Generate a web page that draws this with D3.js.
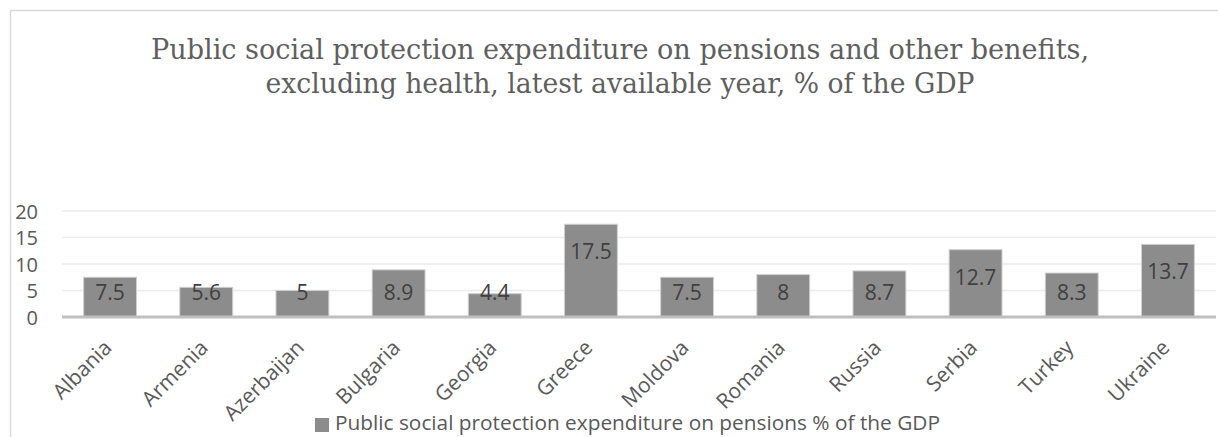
<!DOCTYPE html>
<html><head><meta charset="utf-8">
<script src="https://cdn.jsdelivr.net/npm/d3@7"></script>
<style>html,body{margin:0;padding:0;background:#fff;overflow:hidden}</style>
</head><body>
<svg id="c" width="1218" height="437"></svg>
<script>
const categories = ["Albania","Armenia","Azerbaijan","Bulgaria","Georgia","Greece","Moldova","Romania","Russia","Serbia","Turkey","Ukraine"];
const values = [7.5, 5.6, 5, 8.9, 4.4, 17.5, 7.5, 8, 8.7, 12.7, 8.3, 13.7];
const yTicks = [0, 5, 10, 15, 20];
const titleLines = ["Public social protection expenditure on pensions and other benefits,", "excluding health, latest available year, % of the GDP"];
const seriesName = "Public social protection expenditure on pensions % of the GDP";

const svg = d3.select("#c");
svg.append("rect").attr("x",10.5).attr("y",10.5).attr("width",1240).attr("height",460)
  .attr("fill","#fff").attr("stroke","#d9d9d9").attr("stroke-width",1.5);

const x = d3.scaleBand().domain(categories).range([62, 1216]).paddingInner(0.45).paddingOuter(0.225);
const y = d3.scaleLinear().domain([0, 20]).range([317, 211]);

// title
const tw = [938, 709];
svg.selectAll("text.title").data(titleLines).join("text").attr("class","title")
  .attr("x", 620).attr("y", (d,i)=> i===0 ? 59 : 92.5)
  .attr("text-anchor","middle")
  .attr("font-family","'DejaVu Serif Condensed','DejaVu Serif', serif").attr("font-size",27)
  .attr("font-weight",300)
  .attr("fill","#5f5f5f")
  .attr("textLength",(d,i)=>tw[i]).attr("lengthAdjust","spacingAndGlyphs")
  .text(d=>d);

// grid
svg.append("g").selectAll("line").data(yTicks.filter(t=>t>0)).join("line")
  .attr("x1",62).attr("x2",1216).attr("y1",d=>y(d)).attr("y2",d=>y(d))
  .attr("stroke","#ebebeb").attr("stroke-width",1.5);

// y axis labels
const yAxis = d3.axisLeft(y).tickValues(yTicks).tickSize(0).tickPadding(0);
const gy = svg.append("g").attr("transform","translate(38,0)").call(yAxis);
gy.select(".domain").remove();
gy.selectAll("text").attr("font-family","'Open Sans', sans-serif").attr("font-size",20).attr("fill","#595959").attr("dy","0.35em");

// bars
svg.append("g").selectAll("rect").data(values).join("rect")
  .attr("x",(d,i)=>x(categories[i])).attr("width",x.bandwidth())
  .attr("y",d=>y(d)).attr("height",d=>y(0)-y(d))
  .attr("fill","#8c8c8c").attr("stroke","#d0d0d0").attr("stroke-width",1);

// x axis
const xAxis = d3.axisBottom(x).tickSize(0).tickFormat(()=>"");
const gx = svg.append("g").attr("transform",`translate(0,${y(0)})`).call(xAxis);
gx.select(".domain").attr("stroke","#bfbfbf").attr("stroke-width",3).attr("d","M62,0H1216");

// x labels
svg.append("g").selectAll("text").data(categories).join("text")
  .attr("transform",d=>`translate(${x(d)+x.bandwidth()/2+3},349) rotate(-45)`)
  .attr("text-anchor","end")
  .attr("font-family","'Open Sans', sans-serif").attr("font-size",21).attr("fill","#595959")
  .text(d=>d);

// value labels
svg.append("g").selectAll("text").data(values).join("text")
  .attr("x",(d,i)=>x(categories[i])+x.bandwidth()/2)
  .attr("y",d=>Math.min(y(d)+27.5, 292.5))
  .attr("dy","0.35em").attr("text-anchor","middle")
  .attr("font-family","'Open Sans', sans-serif").attr("font-size",21).attr("fill","#404040")
  .text(d=>d);

// legend
const lg = svg.append("g");
lg.append("rect").attr("x",315).attr("y",418).attr("width",14).attr("height",14).attr("fill","#8c8c8c");
lg.append("text").attr("x",335).attr("y",430)
  .attr("font-family","'Open Sans', sans-serif").attr("font-size",20).attr("fill","#595959")
  .attr("textLength",605).attr("lengthAdjust","spacingAndGlyphs")
  .text(seriesName);
</script>
</body></html>
